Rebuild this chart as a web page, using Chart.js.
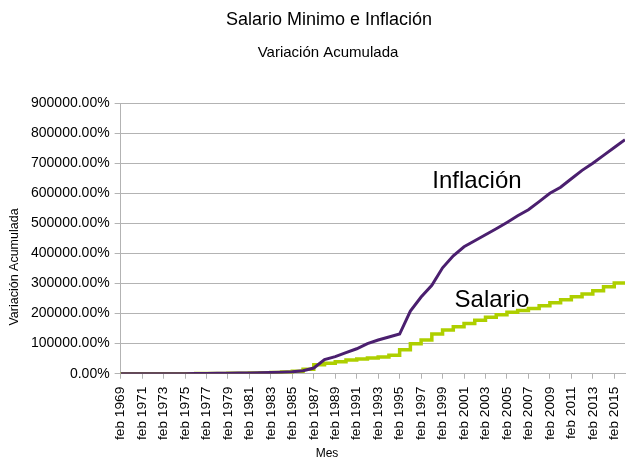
<!DOCTYPE html>
<html>
<head>
<meta charset="utf-8">
<script src="https://cdn.jsdelivr.net/npm/chart.js@4.4.1/dist/chart.umd.min.js"></script>
<style>
  html, body { margin: 0; padding: 0; background: #fff; }
  #wrap { width: 626px; height: 457px; }
</style>
</head>
<body>
<div id="wrap"><canvas id="grafico"></canvas></div>
<script>
// un valor por año (mes de febrero)
const anos = [1969, 1970, 1971, 1972, 1973, 1974, 1975, 1976, 1977, 1978,
  1979, 1980, 1981, 1982, 1983, 1984, 1985, 1986, 1987, 1988,
  1989, 1990, 1991, 1992, 1993, 1994, 1995, 1996, 1997, 1998,
  1999, 2000, 2001, 2002, 2003, 2004, 2005, 2006, 2007, 2008,
  2009, 2010, 2011, 2012, 2013, 2014, 2015, 2016];

// variacion acumulada en %
const inflacion = [0, 10, 25, 50, 90, 120, 200, 500, 900, 1300,
  1800, 2300, 2800, 3400, 4300, 5300, 6800, 10000, 19000, 47000,
  57000, 70000, 83000, 100000, 112000, 122000, 132000, 208000, 255000, 294000,
  352000, 392000, 422000, 442000, 462000, 482000, 503000, 525000, 545000, 572000,
  600000, 620000, 648000, 676000, 700000, 726000, 752000, 778000];

const salario = [0, 5, 10, 20, 40, 60, 100, 250, 450, 700,
  1000, 1400, 1800, 2300, 3000, 4000, 5500, 8000, 15000, 30000,
  35000, 40000, 46000, 49000, 52000, 56000, 61000, 80000, 100000, 112000,
  132000, 145000, 156000, 167000, 178000, 188000, 196000, 204000, 210000, 217000,
  226000, 236000, 246000, 256000, 265000, 276000, 289000, 302000];

const anosEtiqueta = [1969, 1971, 1973, 1975, 1977, 1979, 1981, 1983, 1985, 1987,
  1989, 1991, 1993, 1995, 1997, 1999, 2001, 2003, 2005, 2007,
  2009, 2011, 2013, 2015];

const fuente = '"Liberation Sans", Arial, sans-serif';
const gris = '#b3b3b3';

// titulos y textos dentro del grafico
const textos = {
  id: 'textos',
  afterDraw(chart) {
    const c = chart.ctx;
    const x = chart.scales.x, y = chart.scales.y;
    c.save();
    c.fillStyle = '#000';
    c.textAlign = 'center';
    c.textBaseline = 'alphabetic';
    c.font = '18px ' + fuente;
    c.fillText('Salario Minimo e Inflación', 329, 25);
    c.font = '15px ' + fuente;
    c.fillText('Variación Acumulada', 328, 57);
    c.font = '12px ' + fuente;
    c.fillText('Mes', 327, 457);
    c.font = '24px ' + fuente;
    c.fillText('Inflación', x.getPixelForValue(2002.2), y.getPixelForValue(618000));
    c.fillText('Salario', x.getPixelForValue(2003.6), y.getPixelForValue(221000));
    c.translate(15, 267);
    c.rotate(-Math.PI / 2);
    c.textBaseline = 'middle';
    c.font = '12.5px ' + fuente;
    c.fillText('Variación Acumulada', 0, 0);
    c.restore();
  }
};

const ctx = document.getElementById('grafico').getContext('2d');

const grafico = new Chart(ctx, {
  type: 'line',
  data: {
    datasets: [
      {
        label: 'Inflación',
        data: anos.map((a, i) => ({ x: a, y: inflacion[i] })),
        borderColor: '#4b1f6f',
        borderWidth: 3,
        pointRadius: 0,
        tension: 0
      },
      {
        label: 'Salario',
        data: anos.map((a, i) => ({ x: a, y: salario[i] })),
        borderColor: '#aecf00',
        borderWidth: 3.5,
        pointRadius: 0,
        stepped: 'after'
      }
    ]
  },
  options: {
    responsive: true,
    maintainAspectRatio: false,
    animation: false,
    layout: { padding: { top: 103, left: 26, right: 1, bottom: 9 } },
    plugins: {
      legend: { display: false },
      title: { display: false },
      tooltip: { enabled: false }
    },
    scales: {
      x: {
        type: 'linear',
        min: 1969,
        max: 2016,
        afterBuildTicks: s => { s.ticks = anosEtiqueta.map(v => ({ value: v })); },
        afterFit: s => { s.paddingRight = 0; s.paddingLeft = 0; },
        border: { color: gris, width: 1 },
        grid: { drawOnChartArea: false, color: gris, tickLength: 5 },
        ticks: {
          autoSkip: false,
          maxRotation: 90,
          minRotation: 90,
          padding: 8,
          color: '#000',
          font: { family: fuente, size: 13.7 },
          callback: v => 'feb ' + v
        }
      },
      y: {
        min: 0,
        max: 900000,
        afterFit: s => { s.paddingTop = 0; },
        border: { color: gris, width: 1 },
        grid: { color: gris, tickLength: 6 },
        ticks: {
          stepSize: 100000,
          padding: 5,
          color: '#000',
          font: { family: fuente, size: 14 },
          callback: v => v.toFixed(2) + '%'
        }
      }
    }
  },
  plugins: [textos]
});
</script>
</body>
</html>
